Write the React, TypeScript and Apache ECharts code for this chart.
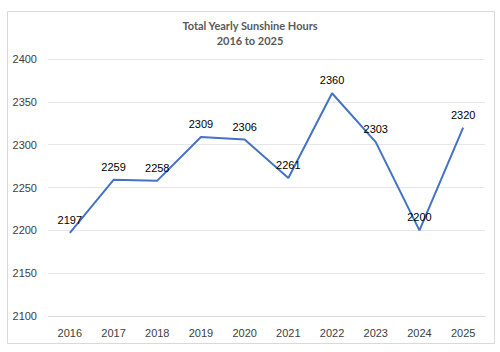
import React, { useEffect, useRef } from "react";
import * as echarts from "echarts";

const years = ["2016", "2017", "2018", "2019", "2020", "2021", "2022", "2023", "2024", "2025"];
const sunshineHours = [2197, 2259, 2258, 2309, 2306, 2261, 2360, 2303, 2200, 2320];
const titleLines = ["Total Yearly Sunshine Hours", "2016 to 2025"];

export default function App() {
  const ref = useRef<HTMLDivElement>(null);
  useEffect(() => {
    if (!ref.current) return;
    const chart = echarts.init(ref.current, null, { renderer: "svg" });
    chart.setOption({
      animation: false,
      backgroundColor: "#ffffff",
      graphic: [
        {
          type: "rect",
          shape: { x: 7.5, y: 11.5, width: 487, height: 332 },
          style: { fill: "none", stroke: "#d9d9d9", lineWidth: 1 },
          silent: true,
        },
      ],
      title: {
        text: titleLines.join("\n"),
        left: "center",
        top: 13,
        textStyle: {
          fontFamily: "Lato",
          fontSize: 11,
          fontWeight: "bold",
          color: "#595959",
          lineHeight: 15,
        },
      },
      grid: { left: 48, right: 15, top: 59, bottom: 36 },
      xAxis: {
        type: "category",
        data: years,
        boundaryGap: true,
        axisLine: { show: true, lineStyle: { color: "#d9d9d9" } },
        axisTick: { show: false },
        axisLabel: {
          color: "#404040",
          fontFamily: "Liberation Sans",
          fontSize: 11,
          margin: 11,
        },
      },
      yAxis: {
        type: "value",
        min: 2100,
        max: 2400,
        interval: 50,
        axisLine: { show: false },
        axisTick: { show: false },
        splitLine: { lineStyle: { color: "#e6e6e6" } },
        axisLabel: {
          color: "#404040",
          fontFamily: "Liberation Sans",
          fontSize: 11,
          margin: 11,
          formatter: (v: number) => String(v),
        },
      },
      series: [
        {
          type: "line",
          data: sunshineHours,
          symbol: "circle",
          symbolSize: 1,
          showSymbol: true,
          itemStyle: { color: "rgba(0,0,0,0)", borderWidth: 0 },
          lineStyle: { color: "#4472C4", width: 2 },
          label: {
            show: true,
            position: "top",
            distance: 7,
            color: "#000000",
            fontFamily: "Liberation Sans",
            fontSize: 11,
          },
        },
      ],
    });
    return () => chart.dispose();
  }, []);
  return (
    <div
      ref={ref}
      style={{ position: "fixed", left: 0, top: 0, width: 500, height: 352 }}
    />
  );
}
